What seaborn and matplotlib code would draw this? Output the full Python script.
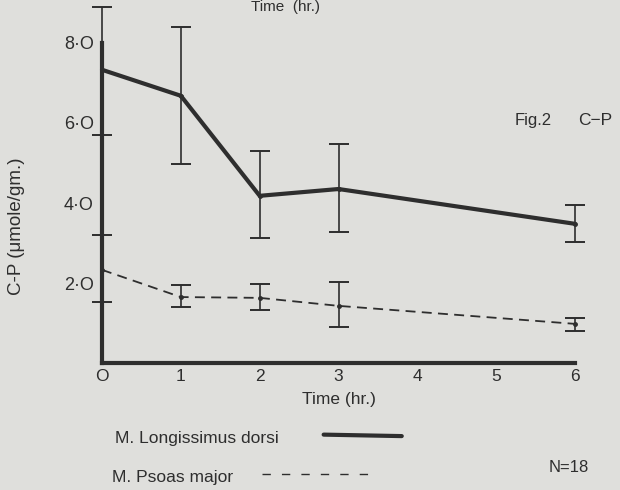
import matplotlib
matplotlib.use("Agg")
import matplotlib.pyplot as plt
import seaborn as sns
import pandas as pd
import numpy as np

# ---- data ----
time_hr = [0, 1, 2, 3, 6]
ld_mean = [7.33, 6.68, 4.18, 4.35, 3.48]
ld_low = [5.70, 4.98, 3.12, 3.28, 3.03]
ld_high = [8.90, 8.40, 5.30, 5.48, 3.95]

pm_mean = [2.33, 1.65, 1.63, 1.43, 0.98]
pm_low = [1.52, 1.40, 1.33, 0.90, 0.80]
pm_high = [3.20, 1.95, 1.98, 2.02, 1.12]

x_ticks = [0, 1, 2, 3, 4, 5, 6]
x_ticklabels = ["O", "1", "2", "3", "4", "5", "6"]
y_ticks = [2, 4, 6, 8]
y_ticklabels = ["2·O", "4·O", "6·O", "8·O"]

series_names = ["M. Longissimus dorsi", "M. Psoas major"]

# ---- styling ----
sns.set_theme(style="white")
plt.rcParams["font.family"] = ["Liberation Sans", "DejaVu Sans"]
paper = "#dfdfdc"
ink = "#2e2e2e"

fig = plt.figure(figsize=(6.2, 4.9), dpi=100, facecolor=paper)
ax = fig.add_axes([0.1645, 0.259, 0.763, 0.735])
ax.set_facecolor(paper)

df = pd.DataFrame({
    "time": time_hr * 2,
    "value": ld_mean + pm_mean,
    "series": [series_names[0]] * len(time_hr) + [series_names[1]] * len(time_hr),
})

sns.lineplot(data=df[df.series == series_names[0]], x="time", y="value",
             color=ink, linewidth=3.0, ax=ax, legend=False, clip_on=False)
sns.lineplot(data=df[df.series == series_names[1]], x="time", y="value",
             color=ink, linewidth=1.3, ax=ax, legend=False, clip_on=False)
ax.lines[-1].set_dashes([5.5, 3.5])

def draw_err(mean, low, high):
    m = np.array(mean)
    yerr = np.vstack([m - np.array(low), np.array(high) - m])
    eb = ax.errorbar(time_hr, m, yerr=yerr, fmt="o", ms=2.5, color=ink,
                     ecolor=ink, elinewidth=1.2, capsize=7, capthick=1.4)
    for a in eb.lines[1] + eb.lines[2]:
        a.set_clip_on(False)
    eb.lines[0].set_clip_on(False)

draw_err(ld_mean, ld_low, ld_high)
draw_err(pm_mean, pm_low, pm_high)

ax.set_xlim(0, 6)
ax.set_ylim(0, 9)
sns.despine(ax=ax, top=True, right=True)
ax.spines["left"].set_bounds(0, 8.0)
ax.spines["left"].set_linewidth(3.0)
ax.spines["bottom"].set_linewidth(3.0)
ax.spines["left"].set_color(ink)
ax.spines["bottom"].set_color(ink)

ax.set_xticks(x_ticks)
ax.set_xticklabels(x_ticklabels, fontsize=12.5, color=ink)
ax.set_yticks(y_ticks)
ax.set_yticklabels(y_ticklabels, fontsize=13, color=ink)
ax.tick_params(axis="x", direction="inout", length=8, width=1.4, color=ink, pad=0)
ax.tick_params(axis="y", direction="out", length=5, width=1.4, color=ink, pad=1)

ax.set_xlabel("Time (hr.)", fontsize=12.5, color=ink, labelpad=6)
ax.set_ylabel("C-P (μmole/gm.)", fontsize=13.5, color=ink)
ax.yaxis.set_label_coords(-0.163, 0.38)

# annotations
fig.text(0.83, 0.755, "Fig.2", fontsize=12, color=ink, ha="left", va="center")
fig.text(0.932, 0.755, "C−P", fontsize=12.5, color=ink, ha="left", va="center")
fig.text(0.885, 0.045, "N=18", fontsize=12, color=ink, ha="left", va="center")
fig.text(0.46, 0.999, "Time  (hr.)", fontsize=11, color=ink, ha="center", va="top")

# hand-drawn legend
fig.text(0.185, 0.105, series_names[0], fontsize=12.5, color=ink, ha="left", va="center")
fig.text(0.18, 0.025, series_names[1], fontsize=12.5, color=ink, ha="left", va="center")
fig.add_artist(plt.Line2D([0.522, 0.648], [0.113, 0.110], color=ink, linewidth=3.0,
                          transform=fig.transFigure))
fig.add_artist(plt.Line2D([0.423, 0.598], [0.032, 0.032], color=ink, linewidth=1.0,
                          dashes=[6, 8], transform=fig.transFigure))

fig.savefig("out.png", dpi=100, facecolor=paper)
